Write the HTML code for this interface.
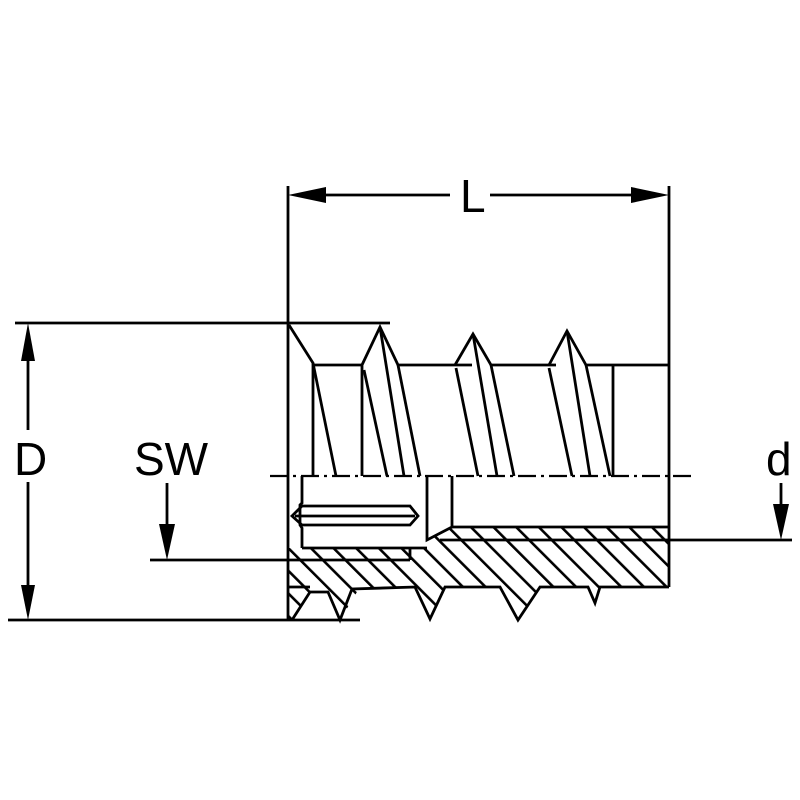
<!DOCTYPE html>
<html><head><style>html,body{margin:0;padding:0;background:#fff}svg{display:block}</style></head>
<body>
<svg width="800" height="800" viewBox="0 0 800 800" xmlns="http://www.w3.org/2000/svg">
<defs>
<pattern id="h" patternUnits="userSpaceOnUse" width="16" height="16" patternTransform="rotate(-45)">
<rect x="7" y="0" width="2.6" height="16" fill="#000"/>
</pattern>
<clipPath id="hc"><path d="M289,548 L427,548 L427,540 L452,527 L669,527 L669,587 L600,587 L595,603 L588,587 L540,587 L518,620 L500,587 L445,587 L430,619 L415,587 L360,587 L340,620 L328,592 L310,592 L292,620 L289,620 Z"/></clipPath>
</defs>
<rect width="800" height="800" fill="#fff"/>
<g stroke="#000" stroke-width="2.8" fill="none">
<rect x="280" y="520" width="400" height="110" fill="url(#h)" stroke="none" clip-path="url(#hc)"/>
<line x1="288" y1="186" x2="288" y2="620"/>
<line x1="669" y1="186" x2="669" y2="587"/>
<line x1="300" y1="195" x2="450" y2="195"/>
<line x1="490" y1="195" x2="660" y2="195"/>
<line x1="15" y1="323" x2="390" y2="323"/>
<line x1="8" y1="620" x2="360" y2="620"/>
<line x1="28" y1="335" x2="28" y2="430"/>
<line x1="28" y1="482" x2="28" y2="608"/>
<line x1="150" y1="560" x2="288" y2="560"/>
<line x1="167" y1="483" x2="167" y2="540"/>
<line x1="669" y1="540" x2="792" y2="540"/>
<line x1="781" y1="483" x2="781" y2="520"/>
<line x1="270" y1="476" x2="692" y2="476" stroke-width="2.2" stroke-dasharray="18,5,3,5"/>
<polyline points="289,325 313,363 313,476"/>
<line x1="313" y1="365" x2="362" y2="365"/>
<polyline points="362,476 362,365 380,327 398,365 472,365"/>
<polyline points="455,365 473,334 491,365 556,365"/>
<polyline points="549,365 567,331 586,365 669,365"/>
<line x1="613" y1="365" x2="613" y2="476"/>
<line x1="313" y1="363" x2="336" y2="476"/>
<line x1="364" y1="370" x2="387" y2="476"/>
<line x1="380" y1="327" x2="404" y2="476"/>
<line x1="398" y1="365" x2="420" y2="476"/>
<line x1="456" y1="368" x2="478" y2="476"/>
<line x1="473" y1="334" x2="497" y2="476"/>
<line x1="491" y1="365" x2="514" y2="476"/>
<line x1="549" y1="368" x2="572" y2="476"/>
<line x1="567" y1="331" x2="590" y2="476"/>
<line x1="586" y1="365" x2="610" y2="476"/>
<polyline points="302,476 302,503 300,505 300,525 302,528 302,548"/>
<line x1="302" y1="548" x2="427" y2="548"/>
<line x1="289" y1="560" x2="410" y2="560"/>
<polyline points="427,476 427,540 452,527"/>
<polyline points="452,476 452,527 669,527"/>
<line x1="440" y1="540" x2="669" y2="540"/>
<polyline points="410,560 410,548"/>
<polygon points="292,516 302,506 410,506 418,516 410,525 302,525"/>
<line x1="295" y1="516" x2="415" y2="516"/>
<polyline points="289,587 310,587"/>
<polyline points="292,620 310,592 328,592 340,620 352,589 415,587 430,619 445,587 500,587 518,620 540,587 588,587 595,603 600,587 669,587"/>
</g>
<g fill="#000">
<polygon points="288,195 326,187 326,203"/>
<polygon points="669,195 631,187 631,203"/>
<polygon points="28,323 21,361 35,361"/>
<polygon points="28,620 21,585 35,585"/>
<polygon points="167,560 159,524 175,524"/>
<polygon points="781,540 773,504 789,504"/>
</g>
<g font-family="Liberation Sans, sans-serif" font-size="46" fill="#000">
<text x="460" y="212">L</text>
<text x="14" y="475">D</text>
<text x="134" y="475">SW</text>
<text x="766" y="475">d</text>
</g>
</svg>
</body></html>
